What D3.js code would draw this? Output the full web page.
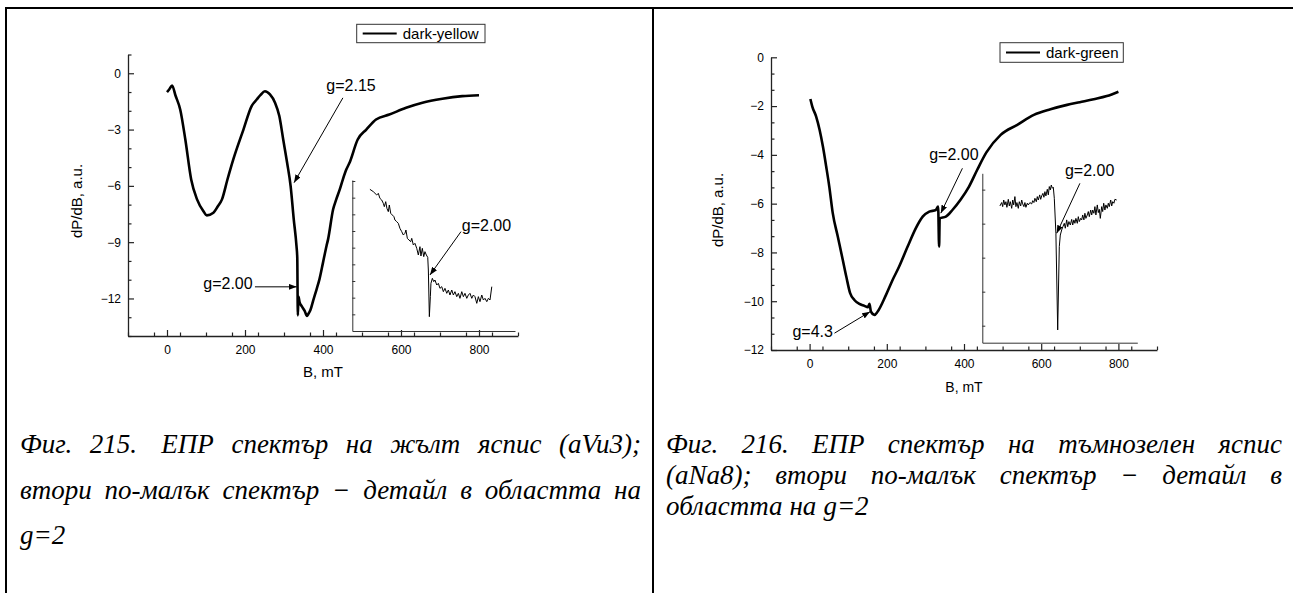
<!DOCTYPE html>
<html>
<head>
<meta charset="utf-8">
<script src="https://cdn.jsdelivr.net/npm/d3@7"></script>
<style>
  body { margin: 0; background: #fff; }
  svg { display: block; }
  .chart text { font-family: "Liberation Sans", Arial, sans-serif; fill: #000; }
  .caption text { font-family: "Liberation Serif", "Times New Roman", serif; font-style: italic; }
</style>
</head>
<body>
<div id="wrapper"></div>
<script>
// ---- data ----
const xTicks = [0, 200, 400, 600, 800]
const yellowYTicks = [0, -3, -6, -9, -12]
const greenYTicks = [0, -2, -4, -6, -8, -10, -12]

// Fig. 215, dark-yellow jasper (aVu3)
const yellowB = [0, 6, 13, 22, 34, 47, 62, 77, 93, 102, 119, 130, 141, 155, 170, 196, 217, 230, 240, 251,
  264, 277, 288, 298, 308, 317, 325, 332, 334, 335.5, 337, 340, 345, 353, 359, 362, 368, 375, 383, 391,
  400, 409, 413, 426, 434, 443, 451, 460, 468, 489, 511, 536, 570, 613, 655, 706, 757, 800]
const yellowSignal = [-1.0, -0.85, -0.65, -1.2, -1.94, -3.53, -5.66, -6.72, -7.34, -7.57, -7.43, -7.1, -6.72, -5.66, -4.59, -3.0, -1.75, -1.4, -1.15, -0.96,
  -1.13, -1.57, -2.28, -3.53, -4.77, -6.01, -7.78, -9.2, -9.82, -12.9, -11.9, -12.2, -12.4, -12.66, -12.93, -12.84, -12.6, -12.1, -11.55, -10.97,
  -10.09, -9.2, -8.85, -7.25, -6.72, -6.19, -5.65, -5.12, -4.77, -3.53, -3.0, -2.46, -2.2, -1.84, -1.57, -1.36, -1.22, -1.17]

// detail around g=2 (inset, arbitrary units)
const yellowDetailB = [308.8, 310.5, 312.2, 313.0, 313.8, 314.7, 315.5, 316.0, 316.7, 317.3, 318.0, 318.5, 319.2, 320.0, 320.8, 321.3,
  322.2, 323.0, 323.8, 324.7, 325.5, 326.3, 326.8, 327.5, 328.3, 329.2, 329.7, 330.5, 331.3, 332.2, 333.0, 333.8, 334.3, 335.0,
  335.7, 336.3, 337.0, 337.7, 338.0, 338.5, 339.0, 339.3, 340.0, 340.7, 341.3, 342.2, 343.0, 343.8, 344.7, 345.5, 346.3, 347.2,
  348.0, 348.8, 349.7, 350.5, 351.3, 352.2, 353.0, 353.8, 354.7, 355.5, 356.3, 357.2, 358.0, 358.8, 359.7, 360.5, 361.3, 362.2,
  363.0, 363.8, 364.7, 365.5, 366.3, 367.2, 368.0, 368.8, 369.7]
const yellowDetailSignal = [8.50, 8.36, 8.16, 8.26, 7.96, 7.86, 7.66, 7.46, 7.76, 7.36, 7.16, 7.56, 7.06, 6.96, 6.86, 6.66,
  6.56, 6.46, 6.16, 5.96, 5.76, 5.86, 6.06, 5.56, 5.46, 5.36, 5.56, 5.16, 5.26, 4.96, 4.56, 5.06, 4.50, 4.96,
  4.46, 4.76, 4.56, 4.42, 3.66, 0.86, 2.06, 2.86, 3.16, 2.96, 3.06, 2.76, 2.86, 2.56, 2.66, 2.36, 2.56, 2.26,
  2.46, 2.16, 2.46, 2.16, 2.36, 2.06, 2.26, 1.96, 2.36, 2.06, 2.26, 1.96, 2.16, 2.26, 1.96, 2.16, 2.06, 1.66,
  2.06, 1.76, 2.16, 1.86, 1.96, 1.76, 1.96, 1.86, 2.66]

// Fig. 216, dark-green jasper (aNa8)
const greenB = [2, 7, 17, 26, 34.5, 43, 51, 60, 73, 86, 95, 105, 116, 129, 142, 151, 155, 159, 168, 176,
  198, 215, 232, 254, 275, 293, 310, 327, 333, 335.5, 337, 353, 370, 391, 413, 434, 458, 495, 538, 581,
  624, 667, 700, 736, 770, 800]
const greenSignal = [-1.71, -2.02, -2.43, -2.98, -3.66, -4.48, -5.3, -6.39, -7.35, -8.31, -8.99, -9.67, -9.95, -10.11, -10.19, -10.25, -10.11, -10.43, -10.56, -10.43,
  -9.74, -9.13, -8.58, -7.76, -7.01, -6.53, -6.33, -6.26, -6.12, -7.76, -6.6, -6.53, -6.26, -5.84, -5.3, -4.62, -3.9, -3.18, -2.77, -2.36,
  -2.13, -1.95, -1.84, -1.72, -1.59, -1.41]

const greenDetailB = [308.8, 309.7, 310.2, 310.7, 311.3, 311.8, 312.3, 313.0, 313.5, 314.0, 314.7, 315.2, 315.7, 316.3, 316.8, 317.3,
  318.0, 318.5, 319.2, 319.7, 320.2, 320.8, 321.3, 321.8, 322.5, 323.0, 323.8, 324.7, 325.2, 325.8, 326.3, 327.0, 327.5, 328.0,
  328.7, 329.2, 329.7, 330.3, 330.8, 331.3, 331.8, 332.5, 333.0, 333.5, 334.0, 334.5, 335.0, 335.5, 336.0, 336.8, 337.7, 338.5,
  339.0, 339.7, 340.3, 341.0, 341.5, 342.2, 342.7, 343.3, 344.0, 344.7, 345.2, 345.8, 346.3, 346.8, 347.5, 348.0, 348.5, 349.2,
  349.7, 350.2, 350.8, 351.3, 351.8, 352.5, 353.0, 353.5, 354.2, 354.7, 355.2, 355.8, 356.3, 356.8, 357.5, 358.0, 358.5, 359.0,
  359.7, 360.2, 360.7, 361.3, 361.8, 362.5, 363.0, 363.5, 364.2, 364.7, 365.2, 365.8, 366.3, 367.2]
const greenDetailSignal = [8.04, 8.24, 8.00, 8.39, 8.10, 8.29, 7.96, 8.43, 8.04, 8.29, 7.90, 8.39, 8.10, 8.59, 8.00, 8.24,
  7.90, 8.29, 8.04, 8.39, 8.16, 8.00, 8.24, 7.96, 8.20, 8.10, 8.24, 8.16, 8.35, 8.24, 8.49, 8.29, 8.59, 8.39,
  8.69, 8.43, 8.63, 8.78, 8.55, 8.88, 8.63, 9.02, 8.69, 9.18, 8.98, 9.27, 9.08, 9.14, 8.49, 6.43, 0.75, 5.65,
  6.33, 6.63, 6.82, 7.02, 6.73, 7.22, 6.82, 7.12, 6.92, 7.25, 6.92, 7.22, 7.02, 7.31, 7.02, 7.41, 7.12, 7.31,
  7.22, 7.51, 7.22, 7.61, 7.31, 7.51, 7.71, 7.41, 7.80, 7.51, 7.80, 7.61, 8.00, 7.51, 8.10, 7.65, 7.84, 7.31,
  8.00, 7.71, 8.20, 7.80, 8.10, 7.90, 8.20, 8.00, 8.39, 8.04, 8.29, 8.20, 8.43, 8.39]

const legendLabels = ["dark-yellow", "dark-green"]

const captionLeft = ["Фиг. 215.\u00a0 ЕПР спектър на жълт яспис (aVu3);", "втори по-малък спектър − детайл в областта на", "g=2"]
const captionRight = ["Фиг. 216. ЕПР спектър на тъмнозелен яспис", "(aNa8); втори по-малък спектър − детайл в", "областта на g=2"]

// ---- page ----
const page = { width: 1293, height: 593 }

const wrapper = d3.select("#wrapper")
  .append("svg")
    .attr("width", page.width)
    .attr("height", page.height)

wrapper.append("rect").attr("width", page.width).attr("height", page.height).attr("fill", "#fff")

const defs = wrapper.append("defs")
defs.append("marker")
    .attr("id", "arrow")
    .attr("markerUnits", "userSpaceOnUse")
    .attr("markerWidth", 8)
    .attr("markerHeight", 6)
    .attr("refX", 8)
    .attr("refY", 3)
    .attr("orient", "auto")
  .append("path")
    .attr("d", "M0,0 L8,3 L0,6 Z")
    .attr("fill", "#000")

// table rules of the document page
const rules = wrapper.append("g").attr("stroke", "#000").attr("stroke-width", 2)
rules.append("line").attr("x1", 5).attr("x2", page.width).attr("y1", 8).attr("y2", 8)
rules.append("line").attr("x1", 6).attr("x2", 6).attr("y1", 7).attr("y2", page.height)
rules.append("line").attr("x1", 653).attr("x2", 653).attr("y1", 7).attr("y2", page.height)

function minorTicks(lo, hi, step, majors) {
  return d3.range(lo, hi + step / 2, step)
    .map(v => Math.round(v * 1000) / 1000)
    .filter(v => !majors.some(m => Math.abs(m - v) < 1e-6))
}

function drawSpectrum(opts) {
  const dms = opts.dimensions

  const bounds = wrapper.append("g")
      .attr("class", "chart")
      .attr("transform", `translate(${dms.left},${dms.top})`)

  const xScale = d3.scaleLinear().domain([-100, 900]).range([0, dms.width])
  const yScale = d3.scaleLinear().domain(opts.yDomain).range([dms.height, 0])

  // minor ticks
  bounds.append("g")
      .attr("transform", `translate(0,${dms.height})`)
      .attr("color", "#222")
      .call(d3.axisBottom(xScale).tickValues(minorTicks(-100, 900, 200 / 3, xTicks)).tickSize(-3.5).tickFormat(""))
      .call(g => g.select(".domain").remove())
  bounds.append("g")
      .attr("color", "#222")
      .call(d3.axisLeft(yScale).tickValues(minorTicks(opts.yDomain[0], opts.yDomain[1], opts.yMinorStep, opts.yTicks)).tickSize(-3.5).tickFormat(""))
      .call(g => g.select(".domain").remove())

  const xAxis = bounds.append("g")
      .attr("transform", `translate(0,${dms.height})`)
      .attr("color", "#222")
      .call(d3.axisBottom(xScale).tickValues(xTicks).tickSizeInner(-6).tickSizeOuter(0).tickPadding(9))
  const yAxis = bounds.append("g")
      .attr("color", "#222")
      .call(d3.axisLeft(yScale).tickValues(opts.yTicks).tickSizeInner(-6).tickSizeOuter(0).tickPadding(7))

  bounds.selectAll(".domain").attr("stroke-width", 1.3)
  bounds.selectAll(".tick line").attr("stroke-width", 1.2)
  bounds.selectAll(".tick text")
      .attr("font-family", "Liberation Sans, Arial, sans-serif")
      .attr("font-size", 12)
      .attr("fill", "#111")

  bounds.append("text")
      .attr("transform", `translate(${opts.yLabelPos[0]},${opts.yLabelPos[1]}) rotate(-90)`)
      .attr("text-anchor", "middle")
      .attr("dy", "0.35em")
      .style("font-size", "15px")
      .text("dP/dB, a.u.")

  bounds.append("text")
      .attr("x", dms.width / 2)
      .attr("y", dms.height + opts.xLabelGap)
      .attr("text-anchor", "middle")
      .style("font-size", opts.xLabelSize)
      .text("B, mT")

  // main spectrum
  const lineGenerator = d3.line()
      .x(d => xScale(d[0]))
      .y(d => yScale(d[1]))
      .curve(d3.curveMonotoneX)
  bounds.append("path")
      .attr("d", lineGenerator(d3.zip(opts.b, opts.signal)))
      .attr("fill", "none")
      .attr("stroke", "#000")
      .attr("stroke-width", 2.6)
      .attr("stroke-linejoin", "round")

  // legend
  const lg = opts.legend
  const legend = bounds.append("g").attr("transform", `translate(${lg.x},${lg.y})`)
  legend.append("rect")
      .attr("width", lg.w).attr("height", lg.h)
      .attr("fill", "#fff").attr("stroke", "#333").attr("stroke-width", 1)
  legend.append("line")
      .attr("x1", 6).attr("x2", 40).attr("y1", lg.h / 2).attr("y2", lg.h / 2)
      .attr("stroke", "#000").attr("stroke-width", 2)
  legend.append("text")
      .attr("x", 46).attr("y", lg.h / 2).attr("dy", "0.35em")
      .style("font-size", "15px")
      .text(lg.label)

  // detail inset
  const ins = opts.inset
  const inset = bounds.append("g").attr("transform", `translate(${ins.left},${ins.top})`)
  const insetX = d3.scaleLinear().domain(ins.xDomain).range([0, ins.width])
  const insetY = d3.scaleLinear().domain(ins.yDomain).range([ins.height, 0])
  inset.append("g")
      .attr("transform", `translate(0,${ins.height})`)
      .attr("color", "#333")
      .call(d3.axisBottom(insetX).tickValues([]).tickSizeOuter(0))
  inset.append("g")
      .attr("color", "#333")
      .call(d3.axisLeft(insetY).tickValues(ins.yTicks).tickSizeInner(-3).tickSizeOuter(0).tickFormat(""))
  inset.selectAll(".domain").attr("stroke-width", 1)
  const insetLine = d3.line()
      .x(d => insetX(d[0]))
      .y(d => insetY(d[1]))
  inset.append("path")
      .attr("d", insetLine(d3.zip(ins.b, ins.signal)))
      .attr("fill", "none")
      .attr("stroke", "#000")
      .attr("stroke-width", 1)

  // g-factor labels with arrows
  const place = (g, sx, sy, n) => {
    g.append("line")
        .attr("x1", sx(n.from[0])).attr("y1", sy(n.from[1]))
        .attr("x2", sx(n.to[0])).attr("y2", sy(n.to[1]))
        .attr("stroke", "#000").attr("stroke-width", 1)
        .attr("marker-end", "url(#arrow)")
    g.append("text")
        .attr("x", sx(n.at[0])).attr("y", sy(n.at[1]))
        .attr("text-anchor", n.anchor)
        .style("font-size", "16px")
        .text(n.text)
  }
  opts.notes.forEach(n => place(bounds, xScale, yScale, n))
  ins.notes.forEach(n => place(inset, insetX, insetY, n))
}

drawSpectrum({
  dimensions: { left: 128, top: 54.5, width: 390, height: 281.5 },
  yDomain: [-14, 1],
  yTicks: yellowYTicks,
  yMinorStep: 1,
  yLabelPos: [-51, 146.5],
  xLabelGap: 41,
  xLabelSize: "15px",
  b: yellowB,
  signal: yellowSignal,
  legend: { x: 228.7, y: -30.2, w: 128.3, h: 18.4, label: legendLabels[0] },
  notes: [
    { text: "g=2.15", at: [408.5, -0.96], anchor: "start", from: [451, -1.31], to: [325.8, -5.83] },
    { text: "g=2.00", at: [219.6, -11.48], anchor: "end", from: [225.5, -11.38], to: [332.7, -11.38] }
  ],
  inset: {
    left: 224.3, top: 125.5, width: 162.7, height: 151,
    xDomain: [300, 381.3], yDomain: [0, 9.06], yTicks: d3.range(1, 10),
    b: yellowDetailB, signal: yellowDetailSignal,
    notes: [
      { text: "g=2.00", at: [354.7, 6.02], anchor: "start", from: [354.3, 5.96], to: [338.8, 3.36] }
    ]
  }
})

drawSpectrum({
  dimensions: { left: 771, top: 57.3, width: 386, height: 292.7 },
  yDomain: [-12, 0],
  yTicks: greenYTicks,
  yMinorStep: 2 / 3,
  yLabelPos: [-53, 152.7],
  xLabelGap: 42,
  xLabelSize: "14px",
  b: greenB,
  signal: greenSignal,
  legend: { x: 229, y: -14.6, w: 123.3, h: 19.6, label: legendLabels[1] },
  notes: [
    { text: "g=2.00", at: [309.7, -4.23], anchor: "start", from: [395.9, -4.55], to: [339.9, -6.39] },
    { text: "g=4.3", at: [60.4, -11.48], anchor: "end", from: [64.5, -11.31], to: [156.6, -10.43] }
  ],
  inset: {
    left: 211.3, top: 116, width: 155, height: 169.4,
    xDomain: [300, 377.5], yDomain: [0, 9.96], yTicks: [1, 3, 5, 7, 9],
    b: greenDetailB, signal: greenDetailSignal,
    notes: [
      { text: "g=2.00", at: [341.3, 9.79], anchor: "start", from: [348.8, 9.37], to: [337.2, 6.43] }
    ]
  }
})

// ---- figure captions (justified like the document) ----
function caption(lines, x0, x1, baselines) {
  const g = wrapper.append("g")
      .attr("class", "caption")
      .attr("font-size", 27)
      .attr("fill", "#000")
  lines.forEach((line, i) => {
    const justify = i < lines.length - 1
    const words = line.split(" ")
    const spans = words.map(w => g.append("text")
        .attr("y", baselines[i])
        .text(w))
    const widths = spans.map(s => s.node().getComputedTextLength())
    const space = justify
      ? (x1 - x0 - d3.sum(widths)) / (words.length - 1)
      : 7
    let x = x0
    spans.forEach((s, k) => {
      s.attr("x", x)
      x += widths[k] + space
    })
  })
}

caption(captionLeft, 20, 641, [453, 499, 544])
caption(captionRight, 666, 1282, [453, 484, 515])
</script>
</body>
</html>
